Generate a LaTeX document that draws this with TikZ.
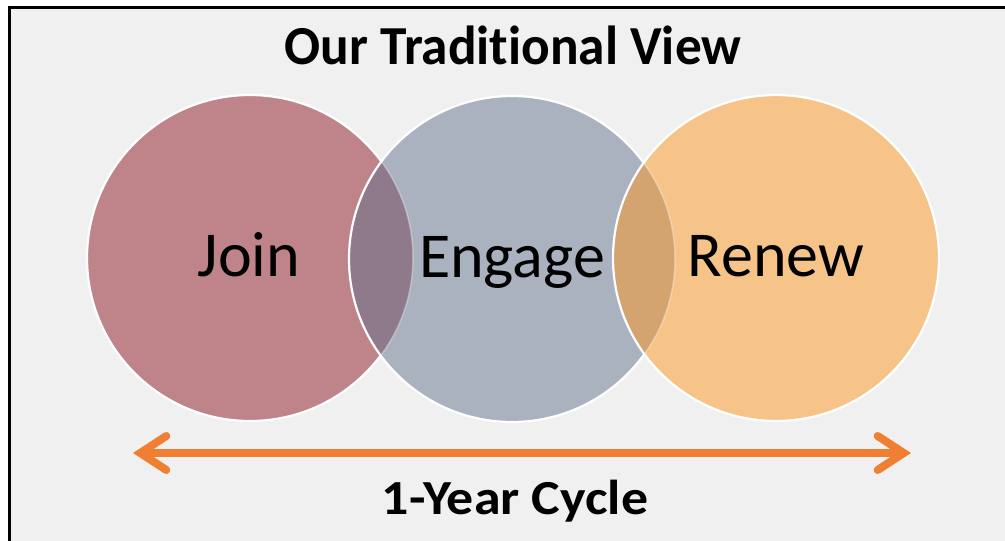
\documentclass[tikz,border=0pt]{standalone}
\usepackage{graphicx}
\usepackage{fontspec}
\setmainfont{Carlito}[Ligatures=NoCommon]
\usetikzlibrary{arrows.meta}

\definecolor{panelbg}{HTML}{F0F0F0}
\definecolor{joinfill}{HTML}{BF8489}
\definecolor{engagefill}{HTML}{AAB2BF}
\definecolor{renewfill}{HTML}{F6C489}
\definecolor{joinengage}{HTML}{8F7A8B}
\definecolor{engagerenew}{HTML}{D3A470}
\definecolor{cyclearrow}{HTML}{EF7F33}

\tikzset{
  ringline/.style={draw=white, line width=2.2pt},
  faintline/.style={draw=white, draw opacity=0.35, line width=1.5pt},
  stagelabel/.style={font=\fontsize{64}{70}\selectfont, anchor=base, inner sep=0pt},
  headline/.style={font=\fontsize{55}{60}\selectfont\bfseries, anchor=base, inner sep=0pt},
  footline/.style={font=\fontsize{49}{54}\selectfont\bfseries, anchor=base, inner sep=0pt},
  barbtip/.tip={Straight Barb[length=26pt, width=34pt, line cap=round, line join=miter]}
}

\begin{document}
\begin{tikzpicture}[x=1pt, y=-1pt]
  % page and panel
  \useasboundingbox (0,0) rectangle (1005,541);
  \fill[white] (0,0) rectangle (1005,541);
  \fill[panelbg] (9.5,7.5) rectangle (1005,541);
  \draw[black, line width=3pt] (9.5,541) -- (9.5,7.5) -- (1005,7.5);

  % circle centres
  \coordinate (cj) at (250,258);
  \coordinate (ce) at (512,259);
  \coordinate (cr) at (776,258);
  \def\rad{163pt}

  % Join
  \fill[joinfill] (cj) circle (\rad);
  \draw[ringline] (cj) circle (\rad);

  % Engage and its overlap with Join
  \fill[engagefill] (ce) circle (\rad);
  \begin{scope}
    \clip (ce) circle (\rad);
    \fill[joinengage] (cj) circle (\rad);
    \draw[faintline] (cj) circle (\rad);
  \end{scope}
  \draw[ringline] (ce) circle (\rad);

  % Renew and its overlap with Engage
  \fill[renewfill] (cr) circle (\rad);
  \begin{scope}
    \clip (cr) circle (\rad);
    \fill[engagerenew] (ce) circle (\rad);
    \draw[faintline] (ce) circle (\rad);
  \end{scope}
  \draw[ringline] (cr) circle (\rad);

  % labels
  \node[headline] (title) at (513,64) {\scalebox{0.97}[1]{Our Traditional View}};
  \node[stagelabel] (join) at (249,276) {Join};
  \node[stagelabel] (engage) at (512,277) {Engage};
  \node[stagelabel] (renew) at (776,276) {Renew};
  \node[footline] (cycle) at (515,514) {\scalebox{1.1}[1]{1-Year Cycle}};

  % cycle arrow
  \coordinate (arrowL) at (133,453);
  \coordinate (arrowR) at (911,453);
  \draw[cyclearrow, line width=8pt, barbtip-barbtip] (arrowL) -- (arrowR);
\end{tikzpicture}
\end{document}
